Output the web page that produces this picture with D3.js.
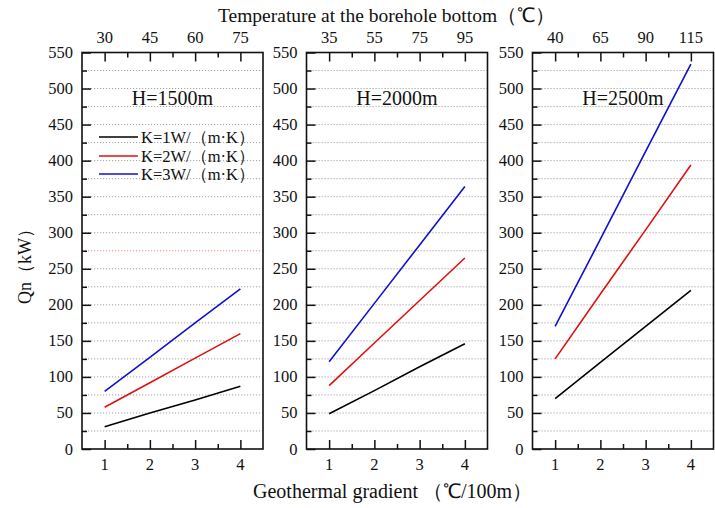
<!DOCTYPE html>
<html><head><meta charset="utf-8">
<script src="https://cdn.jsdelivr.net/npm/d3@7"></script>
<style>
body{margin:0;background:#fff;}
text{font-family:"Liberation Serif","Times New Roman",serif;fill:#111;}
</style></head>
<body><svg id="c" width="715" height="508"></svg>
<script>
// ---- data ----
const gradients = [1, 2, 3, 4];
const panels = ["H=1500m", "H=2000m", "H=2500m"];
const topTickLabels = [[30, 45, 60, 75], [35, 55, 75, 95], [40, 65, 90, 115]];
const seriesNames = ["K=1W/（m·K）", "K=2W/（m·K）", "K=3W/（m·K）"];
const seriesColors = ["#000000", "#e01010", "#1010d0"];
const h1500 = [[31, 50, 68, 87], [58, 92, 126, 160], [80, 127, 175, 222]];
const h2000 = [[49, 81, 114, 146], [88, 147, 206, 265], [121, 202, 283, 364]];
const h2500 = [[70, 120, 170, 220], [125, 215, 304, 394], [170, 291, 413, 534]];
const panelData = [h1500, h2000, h2500];
const yTicks = d3.range(0, 551, 50);

const svg = d3.select("#c");
const lefts = [82, 306.5, 532.5];
const pw = 181, pTop = 52.5, pBottom = 449;
const y = d3.scaleLinear().domain([0, 550]).range([pBottom, pTop]);

panels.forEach((name, p) => {
  const x = d3.scaleLinear().domain([0.5, 4.5]).range([lefts[p], lefts[p] + pw]);
  const g = svg.append("g");
  // grid
  d3.range(25, 550, 25).forEach(v => {
    g.append("line").attr("x1", lefts[p]).attr("x2", lefts[p] + pw)
      .attr("y1", y(v)).attr("y2", y(v))
      .attr("stroke", (p === 0 && v === 275) ? "#e08080" : "#999")
      .attr("stroke-width", 0.9).attr("stroke-dasharray", "1.2,1.8");
  });
  const styleTicks = s => {
    s.select(".domain").remove();
    s.selectAll("line").attr("stroke", "#111").attr("stroke-width", 1.5);
  };
  // y axis ticks inward
  g.append("g").attr("transform", `translate(${lefts[p]},0)`)
    .call(d3.axisRight(y).tickValues(yTicks).tickSize(9).tickFormat("")).call(styleTicks);
  g.append("g").attr("transform", `translate(${lefts[p]},0)`)
    .call(d3.axisRight(y).tickValues(d3.range(25, 550, 50)).tickSize(5).tickFormat("")).call(styleTicks);
  yTicks.forEach(v => {
    g.append("text").attr("x", lefts[p] - 9).attr("y", y(v) + 5.5)
      .attr("text-anchor", "end").attr("font-size", 16.5).text(v);
  });
  // bottom axis ticks inward
  g.append("g").attr("transform", `translate(0,${pBottom})`)
    .call(d3.axisTop(x).tickValues(gradients).tickSize(9).tickFormat("")).call(styleTicks);
  g.append("g").attr("transform", `translate(0,${pBottom})`)
    .call(d3.axisTop(x).tickValues([1.5, 2.5, 3.5]).tickSize(5).tickFormat("")).call(styleTicks);
  gradients.forEach(v => {
    g.append("text").attr("x", x(v)).attr("y", pBottom + 21)
      .attr("text-anchor", "middle").attr("font-size", 16.5).text(v);
  });
  // top axis ticks inward
  g.append("g").attr("transform", `translate(0,${pTop})`)
    .call(d3.axisBottom(x).tickValues(gradients).tickSize(9).tickFormat("")).call(styleTicks);
  g.append("g").attr("transform", `translate(0,${pTop})`)
    .call(d3.axisBottom(x).tickValues([1.5, 2.5, 3.5]).tickSize(5).tickFormat("")).call(styleTicks);
  topTickLabels[p].forEach((lab, i) => {
    g.append("text").attr("x", x(gradients[i])).attr("y", pTop - 10)
      .attr("text-anchor", "middle").attr("font-size", 16.5).text(lab);
  });
  // lines
  const line = d3.line().x((d, i) => x(gradients[i])).y(d => y(d));
  panelData[p].forEach((s, k) => {
    g.append("path").attr("d", line(s)).attr("fill", "none")
      .attr("stroke", seriesColors[k]).attr("stroke-width", 1.6);
  });
  // frame
  g.append("rect").attr("x", lefts[p]).attr("y", pTop).attr("width", pw).attr("height", pBottom - pTop)
    .attr("fill", "none").attr("stroke", "#111").attr("stroke-width", 1.6);
  // panel label
  g.append("text").attr("x", lefts[p] + pw / 2).attr("y", 105)
    .attr("text-anchor", "middle").attr("font-size", 20).text(name);
});

// legend
seriesNames.forEach((n, k) => {
  const ly = [137, 156, 174][k];
  svg.append("line").attr("x1", 99).attr("x2", 138).attr("y1", ly).attr("y2", ly)
    .attr("stroke", seriesColors[k]).attr("stroke-width", 1.6);
  svg.append("text").attr("x", 141).attr("y", ly + 5.5).attr("font-size", 16.5).text(n);
});

// titles
svg.append("text").attr("x", 218).attr("y", 22).attr("text-anchor", "start")
  .attr("font-size", 19.5).text("Temperature at the borehole bottom（℃）");
svg.append("text").attr("x", 253).attr("y", 498).attr("text-anchor", "start")
  .attr("font-size", 20).text("Geothermal gradient （℃/100m）");
svg.append("text").attr("transform", "translate(31,262) rotate(-90)").attr("text-anchor", "middle")
  .attr("font-size", 18).text("Qn（kW）");
</script></body></html>
